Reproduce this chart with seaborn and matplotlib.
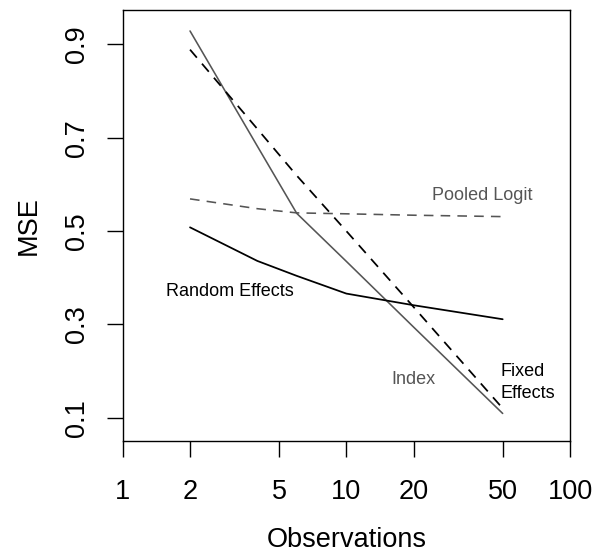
import matplotlib
matplotlib.use("Agg")
import matplotlib.pyplot as plt
import seaborn as sns
import pandas as pd

# ---- data ----
obs = [2, 4, 6, 10, 20, 50]
index_mse = [0.929, 0.682, 0.538, 0.435, 0.294, 0.109]
fixed_mse = [0.889, 0.719, 0.619, 0.500, 0.337, 0.120]
pooled_mse = [0.569, 0.548, 0.539, 0.537, 0.534, 0.531]
random_mse = [0.508, 0.436, 0.404, 0.366, 0.341, 0.311]

x_ticks = [1, 2, 5, 10, 20, 50, 100]
x_tick_labels = ["1", "2", "5", "10", "20", "50", "100"]
y_ticks = [0.1, 0.3, 0.5, 0.7, 0.9]
y_tick_labels = ["0.1", "0.3", "0.5", "0.7", "0.9"]

sns.set_style("white")
plt.rcParams["font.family"] = ["Liberation Sans", "DejaVu Sans"]
plt.rcParams["text.color"] = "black"
plt.rcParams["axes.labelcolor"] = "black"

fig = plt.figure(figsize=(6.0, 5.54), dpi=100)
ax = fig.add_axes([0.2045, 0.204, 0.7455, 0.778])

gray = "#555555"
dash = (6, 4.5)
lw = 1.15

sns.lineplot(x=obs, y=index_mse, ax=ax, color=gray, linewidth=lw)
sns.lineplot(x=obs, y=fixed_mse, ax=ax, color="black", linewidth=lw * 1.1)
ax.lines[-1].set_dashes(dash)
sns.lineplot(x=obs, y=pooled_mse, ax=ax, color=gray, linewidth=lw)
ax.lines[-1].set_dashes(dash)
sns.lineplot(x=obs, y=random_mse, ax=ax, color="black", linewidth=lw * 1.1)

ax.set_xscale("log")
ax.set_xlim(1, 100)
ax.set_ylim(0.050, 0.974)
ax.set_xticks(x_ticks)
ax.set_xticklabels(x_tick_labels)
ax.minorticks_off()
ax.set_yticks(y_ticks)
ax.set_yticklabels(y_tick_labels, rotation=90, va="center")

for s in ax.spines.values():
    s.set_visible(True)
    s.set_color("black")
    s.set_linewidth(1.0)

ax.tick_params(axis="both", which="major", direction="out", length=11.5,
               width=1.0, color="black", labelsize=19.5, labelcolor="black",
               bottom=True, left=True, top=False, right=False)
ax.tick_params(axis="x", pad=16)
ax.tick_params(axis="y", pad=12)

ax.set_xlabel("Observations", fontsize=19.5, color="black")
ax.set_ylabel("MSE", fontsize=19.5, color="black")
ax.xaxis.set_label_coords(0.5, -0.200)
ax.yaxis.set_label_coords(-0.180, 0.5)

ann = 13
ax.text(40.4, 0.577, "Pooled Logit", color=gray, fontsize=ann, ha="center", va="center")
ax.text(3.0, 0.371, "Random Effects", color="black", fontsize=ann, ha="center", va="center")
ax.text(20.0, 0.181, "Index", color=gray, fontsize=ann, ha="center", va="center")
ax.text(49.0, 0.176, "Fixed\nEffects", color="black", fontsize=ann, ha="left",
        va="center", linespacing=1.4)

fig.savefig("out.png", dpi=100)
